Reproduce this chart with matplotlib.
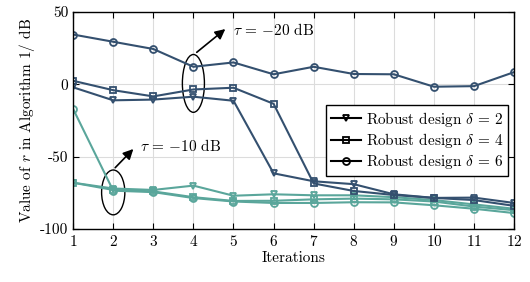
import numpy as np
import matplotlib
import matplotlib.pyplot as plt
from matplotlib.patches import Ellipse
from matplotlib.lines import Line2D

plt.rcParams['font.family'] = 'serif'
plt.rcParams['font.serif'] = ['cmr10']
plt.rcParams['mathtext.fontset'] = 'cm'
plt.rcParams['axes.unicode_minus'] = False
plt.rcParams['axes.formatter.use_mathtext'] = True
plt.rcParams['font.size'] = 11

iters = np.arange(1, 13)

# tau = -20 dB (dark)
d2_20 = [-2, -11, -10.5, -8.5, -11.3, -61.5, -67, -69, -76, -78.5, -78.3, -82]
d4_20 = [2.5, -4, -8.3, -3.5, -2.3, -13.4, -68.5, -73.7, -76.5, -78.5, -80, -84]
d6_20 = [34.5, 29.5, 24.5, 12.2, 15.2, 7, 12.2, 7.2, 7, -1.6, -1.2, 8.5]

# tau = -10 dB (teal)
d2_10 = [-68, -72, -73, -70, -77, -76, -76.7, -76.7, -78, -80, -83, -86]
d4_10 = [-68, -73, -74, -78, -80.6, -80.5, -79.5, -79, -79.5, -81, -84.5, -87]
d6_10 = [-17, -73.5, -74.5, -78.6, -81, -82, -82, -81.5, -81.6, -83.6, -86, -89]

dark = '#34506f'
teal = '#5aa69b'

fig = plt.figure(figsize=(5.3, 2.82), dpi=100)
ax = fig.add_axes([0.138, 0.188, 0.832, 0.769])

style = dict(lw=1.5, ms=5, mew=1.3, mfc='none')
ax.plot(iters, d2_10, color=teal, marker='v', **style)
ax.plot(iters, d4_10, color=teal, marker='s', **style)
ax.plot(iters, d6_10, color=teal, marker='o', **style)
ax.plot(iters, d2_20, color=dark, marker='v', **style)
ax.plot(iters, d4_20, color=dark, marker='s', **style)
ax.plot(iters, d6_20, color=dark, marker='o', **style)

ax.add_patch(Ellipse((4.0, 0.7), 0.55, 40, fill=False, ec='black', lw=1))
ax.add_patch(Ellipse((2.0, -74.7), 0.58, 31, fill=False, ec='black', lw=1))
ax.annotate('', xy=(4.85, 39.5), xytext=(4.03, 21),
            arrowprops=dict(arrowstyle='-|>', color='black', lw=1.2, mutation_scale=15))
ax.text(4.98, 37.5, r'$\tau$ = $-$20 dB', va='center', ha='left')
ax.annotate('', xy=(2.55, -43.3), xytext=(2.0, -59),
            arrowprops=dict(arrowstyle='-|>', color='black', lw=1.2, mutation_scale=15))
ax.text(2.67, -42.6, r'$\tau$ = $-$10 dB', va='center', ha='left')

ax.set_xlim(1, 12)
ax.set_ylim(-100, 50)
ax.set_xticks(iters)
ax.set_yticks([-100, -50, 0, 50])
ax.set_yticklabels(['-100', '-50', '0', '50'])
ax.grid(True, color='#dcdcdc', lw=0.8)
ax.set_axisbelow(True)
ax.tick_params(direction='in', top=True, right=True, length=4)
for s in ax.spines.values():
    s.set_linewidth(1.0)
ax.set_xlabel('Iterations', labelpad=2)
ax.set_ylabel(r'Value of $r$ in Algorithm 1/ dB', labelpad=2)

handles = [Line2D([], [], color='black', marker=m, lw=1.5, ms=5, mew=1.3, mfc='none')
           for m in ['v', 's', 'o']]
labels = [r'Robust design $\delta$ = 2', r'Robust design $\delta$ = 4', r'Robust design $\delta$ = 6']
leg = ax.legend(handles, labels, loc='upper left', bbox_to_anchor=(0.574, 0.571),
                fancybox=False, edgecolor='black', framealpha=1,
                handlelength=2.0, handletextpad=0.3, borderpad=0.3, labelspacing=0.15,
                borderaxespad=0)
leg.get_frame().set_linewidth(1.0)

fig.savefig('out.png', dpi=100)
